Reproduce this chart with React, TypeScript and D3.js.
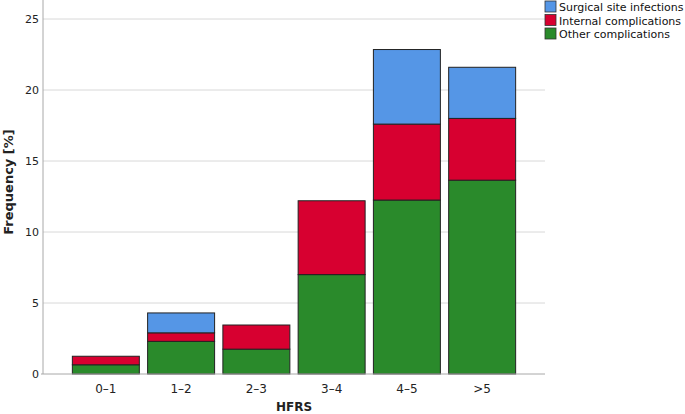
import React, { useRef, useEffect } from 'react';
import * as d3 from 'd3';

const categories = ['0-1', '1-2', '2-3', '3-4', '4-5', '>5'];
const otherComplications = [0.65, 2.3, 1.75, 7.0, 12.25, 13.65];
const internalComplications = [0.6, 0.6, 1.7, 5.2, 5.35, 4.35];
const surgicalSiteInfections = [0, 1.4, 0, 0, 5.25, 3.6];
const yTicks = [0, 5, 10, 15, 20, 25];

const seriesNames = ['Other complications', 'Internal complications', 'Surgical site infections'];
const seriesColors = ['#2a8a2b', '#d70030', '#5596e6'];

const W = 685;
const H = 414;
const FONT = '"DejaVu Sans", Verdana, sans-serif';

export default function App() {
  const svgRef = useRef<SVGSVGElement>(null);

  useEffect(() => {
    const svg = d3.select(svgRef.current);
    svg.selectAll('*').remove();

    const left = 43, right = 545, top = 0, bottom = 374;

    const x = d3.scaleBand<string>()
      .domain(categories)
      .range([left, right])
      .paddingInner(0.11)
      .paddingOuter(0.39);
    const y = d3.scaleLinear().domain([0, 25]).range([bottom, 19]);

    // gridlines
    svg.append('g')
      .selectAll('line')
      .data(yTicks.slice(1))
      .join('line')
      .attr('x1', left)
      .attr('x2', right)
      .attr('y1', d => y(d))
      .attr('y2', d => y(d))
      .attr('stroke', '#d8d8d8')
      .attr('stroke-width', 1);

    const table = categories.map((c, i) => ({
      cat: c,
      'Other complications': otherComplications[i],
      'Internal complications': internalComplications[i],
      'Surgical site infections': surgicalSiteInfections[i],
    }));
    const stacked = d3.stack<any>().keys(seriesNames)(table);

    svg.append('g')
      .selectAll('g')
      .data(stacked)
      .join('g')
      .attr('fill', (d, i) => seriesColors[i])
      .selectAll('rect')
      .data(d => d.filter(p => p[1] - p[0] > 0))
      .join('rect')
      .attr('x', p => x(p.data.cat)!)
      .attr('width', x.bandwidth())
      .attr('y', p => y(p[1]))
      .attr('height', p => y(p[0]) - y(p[1]))
      .attr('stroke', '#222')
      .attr('stroke-width', 1);

    // axes
    const axisColor = '#a8a8a8';
    svg.append('line')
      .attr('x1', left).attr('x2', left)
      .attr('y1', top).attr('y2', bottom)
      .attr('stroke', axisColor);
    svg.append('line')
      .attr('x1', left - 2).attr('x2', right)
      .attr('y1', bottom).attr('y2', bottom)
      .attr('stroke', axisColor);

    const yAxis = svg.append('g')
      .attr('transform', `translate(${left},0)`)
      .call(d3.axisLeft(y).tickValues(yTicks).tickSize(0).tickPadding(4));
    yAxis.select('.domain').remove();
    yAxis.selectAll('text')
      .attr('font-family', FONT)
      .attr('font-size', 11)
      .attr('fill', '#222');

    const xAxis = svg.append('g')
      .attr('transform', `translate(0,${bottom})`)
      .call(d3.axisBottom(x).tickSize(0).tickPadding(10).tickFormat(d => d.replace('-', '\u2013')));
    xAxis.select('.domain').remove();
    xAxis.selectAll('text')
      .attr('font-family', FONT)
      .attr('font-size', 12)
      .attr('fill', '#222');

    svg.append('text')
      .attr('x', 294)
      .attr('y', 411)
      .attr('text-anchor', 'middle')
      .attr('font-family', FONT)
      .attr('font-weight', 'bold')
      .attr('font-size', 12)
      .attr('fill', '#222')
      .text('HFRS');

    svg.append('text')
      .attr('transform', `translate(13,182) rotate(-90)`)
      .attr('text-anchor', 'middle')
      .attr('font-family', FONT)
      .attr('font-weight', 'bold')
      .attr('font-size', 13)
      .attr('fill', '#222')
      .text('Frequency [%]');

    // legend
    const legendOrder = [2, 1, 0];
    const legend = svg.append('g')
      .selectAll('g')
      .data(legendOrder)
      .join('g')
      .attr('transform', (d, i) => `translate(545,${1 + i * 13.5})`);
    legend.append('rect')
      .attr('width', 11)
      .attr('height', 11)
      .attr('fill', d => seriesColors[d])
      .attr('stroke', '#333')
      .attr('stroke-width', 0.8);
    legend.append('text')
      .attr('x', 14)
      .attr('y', 10)
      .attr('font-family', FONT)
      .attr('font-size', 11)
      .attr('fill', '#111')
      .text(d => seriesNames[d]);
  }, []);

  return (
    <svg
      ref={svgRef}
      width={W}
      height={H}
      style={{ position: 'absolute', left: 0, top: 0, background: '#fff' }}
    />
  );
}
